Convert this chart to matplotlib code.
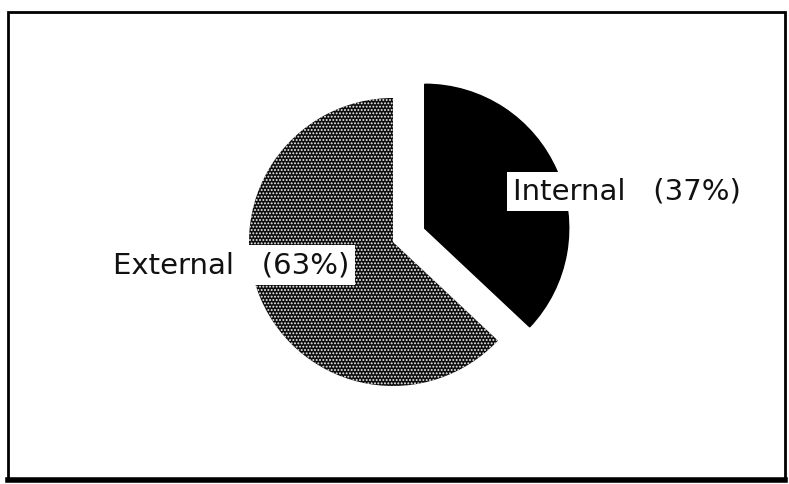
import matplotlib
matplotlib.use('Agg')
import matplotlib.pyplot as plt
from matplotlib.patches import Rectangle
from matplotlib.lines import Line2D

labels = ['Internal', 'External']
shares = [37, 63]
explode = [0.24, 0]

plt.rcParams['font.family'] = ['DejaVu Sans']
plt.rcParams['hatch.linewidth'] = 0.9

fig = plt.figure(figsize=(7.89, 4.84), dpi=100)
ax = fig.add_axes([0, 0, 1, 1])

# 1 data unit = pie radius (144 px), centre at (393, 242) px
r = 144.0
wedges, _ = ax.pie(shares, explode=explode, startangle=90, counterclock=False,
                   radius=1, center=(0, 0), frame=True)
ax.set_xlim(-393 / r, (789 - 393) / r)
ax.set_ylim(-242 / r, 242 / r)
ax.set_aspect('equal')
ax.axis('off')

wedges[0].set_facecolor('black')
wedges[0].set_edgecolor('black')
wedges[1].set_facecolor('#0d0d0d')
wedges[1].set_edgecolor('#f2f2f2')
wedges[1].set_hatch('.....')
wedges[1].set_linewidth(0)

box = dict(facecolor='white', edgecolor='none', pad=4)
ax.text(-0.30, -0.16, f'{labels[1]}   ({shares[1]}%)', ha='right', va='center',
        fontsize=21, color='#111111', bbox=box)
ax.text(0.83, 0.35, f'{labels[0]}   ({shares[0]}%)', ha='left', va='center',
        fontsize=21, color='#111111', bbox=box)

# frame around the chart
fig.patches.append(Rectangle((8 / 789, 4 / 484), 777 / 789, 468 / 484,
                             transform=fig.transFigure, fill=False,
                             edgecolor='black', linewidth=2))
fig.lines.append(Line2D([8 / 789, 785 / 789], [4 / 484, 4 / 484],
                        transform=fig.transFigure, color='black', linewidth=4))

fig.savefig('out.png', dpi=100, facecolor='white')
